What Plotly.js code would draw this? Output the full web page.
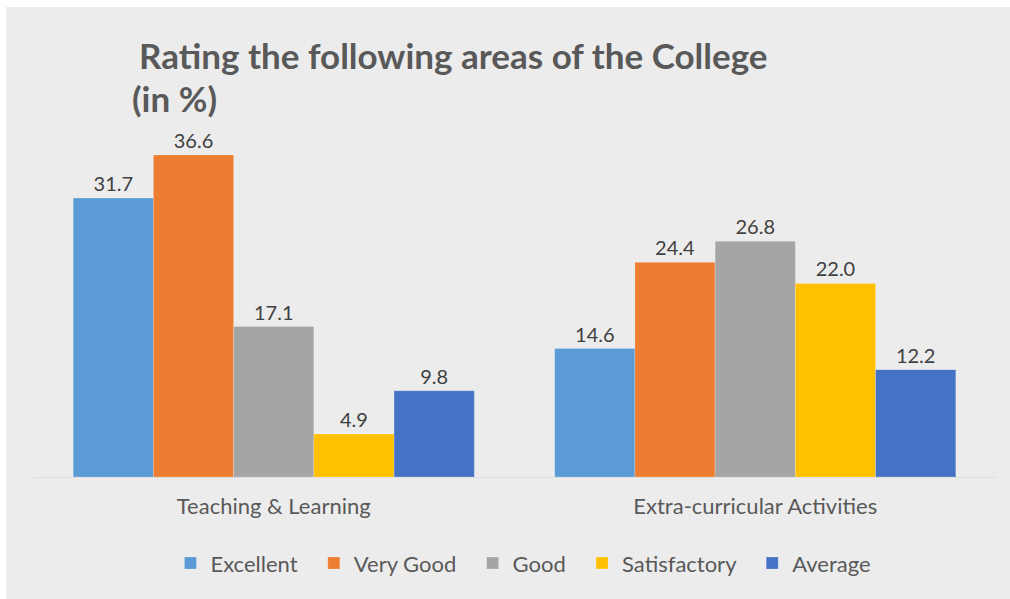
<!DOCTYPE html>
<html>
<head>
<meta charset="utf-8">
<script src="https://cdn.plot.ly/plotly-3.0.1.min.js"></script>
<style>
html,body{margin:0;padding:0;background:#ffffff;}
#chart{position:absolute;left:6px;top:7px;width:1004px;height:592px;}
</style>
</head>
<body>
<div id="chart"></div>
<script>
const categories = ["Teaching & Learning", "Extra-curricular Activities"];
const seriesNames = ["Excellent", "Very Good", "Good", "Satisfactory", "Average"];
const excellent = [31.7, 14.6];
const veryGood = [36.6, 24.4];
const good = [17.1, 26.8];
const satisfactory = [4.9, 22.0];
const average = [9.8, 12.2];
const seriesValues = [excellent, veryGood, good, satisfactory, average];
const colors = ["#5b9bd5", "#ed7d31", "#a5a5a5", "#ffc000", "#4472c4"];

const FONT = "Lato, 'Open Sans', sans-serif";

const traces = seriesNames.map((name, i) => ({
  type: "bar",
  name: name + "\u00a0\u00a0",
  x: categories,
  y: seriesValues[i],
  marker: {color: colors[i], line: {color: "rgba(255,255,255,0.35)", width: 0.6}},
  text: seriesValues[i].map(v => v.toFixed(1)),
  textposition: "outside",
  cliponaxis: false,
  textfont: {family: FONT, size: 20, color: "#404040"},
  hoverinfo: "skip"
}));

const layout = {
  width: 1004,
  height: 592,
  paper_bgcolor: "#ececec",
  plot_bgcolor: "#ececec",
  margin: {l: 27, r: 14, t: 118, b: 122},
  barmode: "group",
  bargap: 0.167,
  bargroupgap: 0,
  showlegend: true,
  legend: {
    orientation: "h",
    x: 0.515, xanchor: "center",
    y: -0.245, yanchor: "middle",
    font: {family: FONT, size: 22, color: "#595959"},
    itemwidth: 20,
    bgcolor: "rgba(0,0,0,0)"
  },
  xaxis: {
    type: "category",
    tickfont: {family: FONT, size: 22, color: "#595959"},
    showline: true, linecolor: "#dedede", linewidth: 1,
    ticks: "", ticklen: 0,
    ticklabelstandoff: 10,
    automargin: false
  },
  yaxis: {
    range: [0, 40],
    visible: false,
    showgrid: false,
    zeroline: false
  },
  annotations: [
    {text: "<b>Rating the following areas of the College</b>", xref: "paper", yref: "paper",
     x: 0.108, xanchor: "left", y: 1.0, yanchor: "bottom", yshift: 47, showarrow: false,
     font: {family: FONT, size: 35, color: "#595959"}},
    {text: "<b>(in %)</b>", xref: "paper", yref: "paper",
     x: 0.1005, xanchor: "left", y: 1.0, yanchor: "bottom", yshift: 4, showarrow: false,
     font: {family: FONT, size: 35, color: "#595959"}}
  ]
};

Plotly.newPlot("chart", traces, layout, {displayModeBar: false, staticPlot: true});
</script>
</body>
</html>
